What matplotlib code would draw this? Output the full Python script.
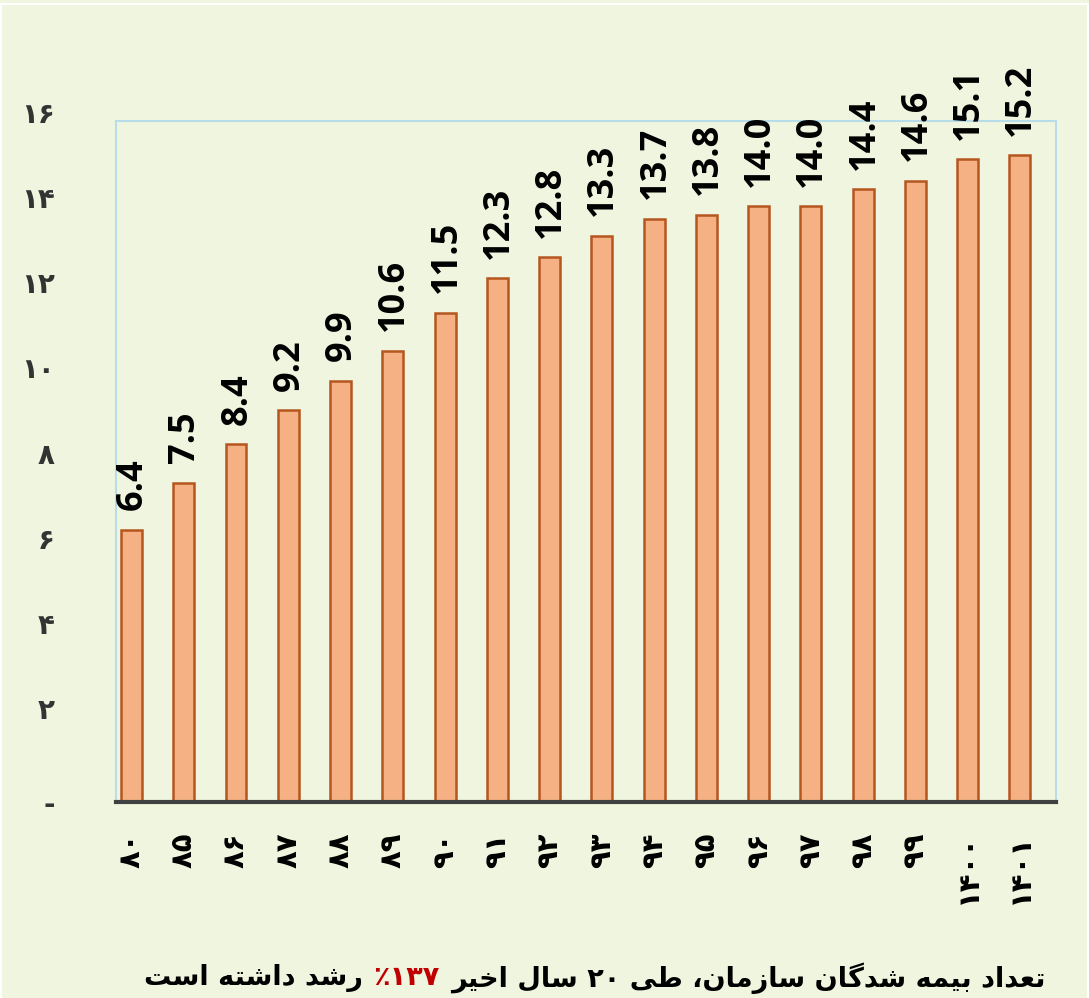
import matplotlib
matplotlib.use("Agg")
import matplotlib.pyplot as plt
import matplotlib.patches as mpatches
from matplotlib.transforms import ScaledTranslation

years = ["۸۰", "۸۵", "۸۶", "۸۷", "۸۸", "۸۹", "۹۰", "۹۱", "۹۲", "۹۳",
         "۹۴", "۹۵", "۹۶", "۹۷", "۹۸", "۹۹", "۱۴۰۰", "۱۴۰۱"]
insured = [6.4, 7.5, 8.4, 9.2, 9.9, 10.6, 11.5, 12.3, 12.8, 13.3,
           13.7, 13.8, 14.0, 14.0, 14.4, 14.6, 15.1, 15.2]
yticks = [0, 2, 4, 6, 8, 10, 12, 14, 16]
ytick_labels = ["-", "۲", "۴", "۶", "۸", "۱۰", "۱۲", "۱۴", "۱۶"]
title_parts = [("تعداد بیمه شدگان سازمان، طی ۲۰ سال اخیر", "black"),
               ("۱۳۷٪", "#C00000"),
               ("رشد داشته است", "black")]

BG = "#F0F5DF"
BAR = "#F5B183"
EDGE = "#B5561E"

# contextual forms: (isolated, final, initial, medial); right-joining letters have 2
FORMS = {
    "ا": ("\uFE8D", "\uFE8E"), "د": ("\uFEA9", "\uFEAA"), "ر": ("\uFEAD", "\uFEAE"),
    "ز": ("\uFEAF", "\uFEB0"),
    "ب": ("\uFE8F", "\uFE90", "\uFE91", "\uFE92"), "ت": ("\uFE95", "\uFE96", "\uFE97", "\uFE98"),
    "خ": ("\uFEA5", "\uFEA6", "\uFEA7", "\uFEA8"), "س": ("\uFEB1", "\uFEB2", "\uFEB3", "\uFEB4"),
    "ش": ("\uFEB5", "\uFEB6", "\uFEB7", "\uFEB8"), "ط": ("\uFEC1", "\uFEC2", "\uFEC3", "\uFEC4"),
    "ع": ("\uFEC9", "\uFECA", "\uFECB", "\uFECC"), "ل": ("\uFEDD", "\uFEDE", "\uFEDF", "\uFEE0"),
    "م": ("\uFEE1", "\uFEE2", "\uFEE3", "\uFEE4"), "ن": ("\uFEE5", "\uFEE6", "\uFEE7", "\uFEE8"),
    "ه": ("\uFEE9", "\uFEEA", "\uFEEB", "\uFEEC"), "ی": ("\uFBFC", "\uFBFD", "\uFBFE", "\uFBFF"),
    "گ": ("\uFB92", "\uFB93", "\uFB94", "\uFB95"),
}


def shape(s):
    out = []
    for i, c in enumerate(s):
        if c not in FORMS:
            out.append(c)
            continue
        prev = s[i - 1] if i > 0 else ""
        nxt = s[i + 1] if i + 1 < len(s) else ""
        join_prev = prev in FORMS and len(FORMS[prev]) == 4
        join_next = len(FORMS[c]) == 4 and nxt in FORMS
        f = FORMS[c]
        if join_prev and join_next:
            out.append(f[3])
        elif join_prev:
            out.append(f[1])
        elif join_next:
            out.append(f[2])
        else:
            out.append(f[0])
    # visual order: reverse, but keep digit runs left to right
    runs, cur = [], ""
    for c in out:
        if "۰" <= c <= "۹":
            cur += c
        else:
            if cur:
                runs.append(cur)
                cur = ""
            runs.append(c)
    if cur:
        runs.append(cur)
    return "".join(reversed(runs))


fig = plt.figure(figsize=(10.89, 9.98), dpi=100, facecolor=BG)
fig.patches.append(mpatches.Rectangle((1 / 1089, -0.01), 1087 / 1089, 1.01 - 4 / 998,
                                      transform=fig.transFigure, fill=False,
                                      edgecolor="white", lw=1.5))
ax = fig.add_axes([116 / 1089, 196 / 998, 940 / 1089, 681 / 998])
ax.set_facecolor(BG)

x = list(range(len(years)))
bars = ax.bar(x, insured, width=0.4, color=BAR, edgecolor=EDGE, linewidth=1.8, zorder=2)
for xi, v in zip(x, insured):
    ax.annotate(f"{v:.1f}", (xi, v), xytext=(1, 14), textcoords="offset points",
                rotation=90, ha="center", va="bottom", fontsize=26,
                fontweight="bold", family="Open Sans", color="black",
                annotation_clip=False)

ax.set_xlim(-0.297, 17.69)
ax.set_ylim(0, 16)
ax.set_yticks(yticks)
ax.set_yticklabels(ytick_labels, family="DejaVu Sans", fontweight="bold",
                   fontsize=20, color="#333333")
ax.set_xticks(x)
ax.set_xticklabels(years, rotation=90, family="DejaVu Sans", fontweight="bold",
                   fontsize=21, va="top", ha="center")
ax.tick_params(axis="y", length=0, pad=44)
ax.tick_params(axis="x", length=0, pad=22)
for lab in ax.get_yticklabels()[1:]:
    lab.set_transform(lab.get_transform() + ScaledTranslation(0, 9 / 100, fig.dpi_scale_trans))

for side in ["top", "left", "right"]:
    ax.spines[side].set_color("#B7DEE8")
    ax.spines[side].set_linewidth(1.5)
ax.spines["bottom"].set_color("#404040")
ax.spines["bottom"].set_linewidth(3)

# bottom caption, laid out right to left
renderer = fig.canvas.get_renderer()
x_right = 1045
gap = 11
size = 19.5
for part, color in title_parts:
    t = fig.text(x_right / 1089, 1 - 978 / 998, shape(part), ha="right", va="center",
                 fontsize=size, fontweight="bold", family="DejaVu Sans", color=color)
    w = t.get_window_extent(renderer).width
    x_right -= w + gap

fig.savefig("out.png", dpi=100, facecolor=BG)
